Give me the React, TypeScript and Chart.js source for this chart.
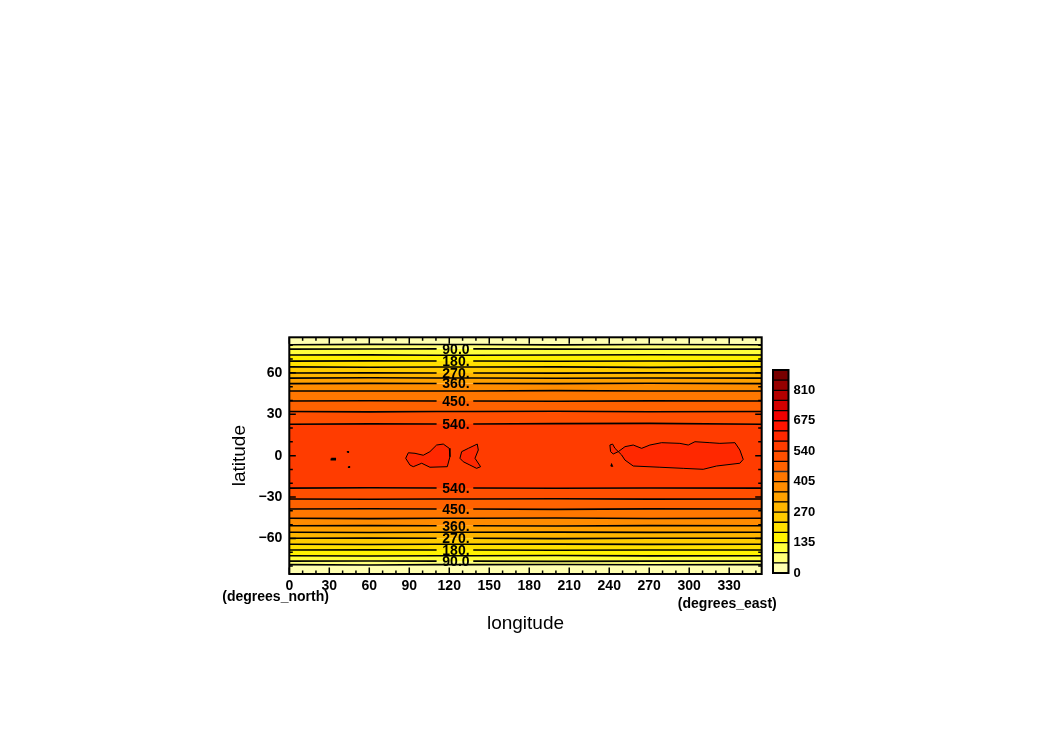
import React, { useEffect, useRef } from "react";
import { Chart, registerables } from "chart.js";

Chart.register(...registerables);

const FONT = "'Liberation Sans', Arial, sans-serif";

// ---- grid extent (T21 Gaussian grid) ----
const lonMin = 0;
const lonMax = 354.375;
const latMin = -85.76;
const latMax = 85.76;

// ---- axis ticks ----
const xMajorTicks = [0, 30, 60, 90, 120, 150, 180, 210, 240, 270, 300, 330];
const yMajorTicks = [-60, -30, 0, 30, 60];
const cbarTicks = [0, 135, 270, 405, 540, 675, 810];

// ---- contour levels / colours ----
const colorBounds = [0, 45, 90, 135, 180, 225, 270, 315, 360, 405, 450, 495, 540, 585, 630, 675, 720, 765, 810, 855, 900];
const bandColors = [
  "#ffffb0", "#ffff78", "#ffff3c", "#fff200", "#ffe000",
  "#ffcb00", "#ffb600", "#ffa100", "#ff8c00", "#ff7700",
  "#ff6200", "#ff4f00", "#ff3c00", "#ff2800", "#ff1400",
  "#f00000", "#d20000", "#b40000", "#960000", "#780000",
];

// longitudes at which each zonal contour line is sampled
const lonPoints = [0, 60, 110.5, 138, 200, 270, 354.375];

// northern hemisphere contour lines (levels 45 .. 540)
const northLevels = [45, 90, 135, 180, 225, 270, 315, 360, 405, 450, 495, 540];
const northLats = [
  [80.4, 80.6, 80.5, 80.5, 80.3, 80.5, 80.4],
  [77.2, 77.3, 77.4, 77.4, 77.2, 77.1, 77.2],
  [72.9, 73.0, 72.8, 72.8, 72.9, 73.1, 72.9],
  [68.5, 68.7, 68.6, 68.6, 68.4, 68.6, 68.5],
  [64.3, 64.1, 64.2, 64.2, 64.3, 64.0, 64.3],
  [59.9, 60.0, 59.9, 59.9, 59.8, 60.0, 59.9],
  [56.2, 56.4, 56.3, 56.3, 56.1, 56.3, 56.2],
  [52.2, 52.4, 52.3, 52.3, 52.2, 52.5, 52.2],
  [46.9, 46.8, 46.9, 46.9, 47.1, 46.8, 46.9],
  [39.6, 39.8, 39.6, 39.6, 39.4, 39.7, 39.6],
  [32.0, 31.7, 32.0, 32.0, 32.2, 31.8, 32.0],
  [22.8, 23.0, 22.9, 22.9, 23.2, 23.4, 22.8],
];

// southern hemisphere contour lines (levels 540 .. 45)
const southLevels = [540, 495, 450, 405, 360, 315, 270, 225, 180, 135, 90, 45];
const southLats = [
  [-23.5, -23.3, -23.4, -23.4, -23.6, -23.4, -23.5],
  [-31.4, -31.6, -31.4, -31.4, -31.2, -31.5, -31.4],
  [-38.7, -38.5, -38.7, -38.7, -38.9, -38.6, -38.7],
  [-45.4, -45.6, -45.4, -45.4, -45.2, -45.5, -45.4],
  [-50.8, -50.7, -50.8, -50.8, -51.0, -50.7, -50.8],
  [-55.5, -55.7, -55.5, -55.5, -55.4, -55.6, -55.5],
  [-59.9, -59.8, -59.9, -59.9, -60.1, -59.9, -59.9],
  [-64.2, -64.4, -64.2, -64.2, -64.1, -64.3, -64.2],
  [-68.4, -68.3, -68.4, -68.4, -68.6, -68.4, -68.4],
  [-72.5, -72.7, -72.5, -72.5, -72.4, -72.6, -72.5],
  [-76.4, -76.3, -76.4, -76.4, -76.6, -76.4, -76.4],
  [-79.0, -79.2, -79.0, -79.0, -78.9, -79.1, -79.0],
];

// labelled contour levels
const labeledLevels = [90, 180, 270, 360, 450, 540];
const labelTexts = ["90.0", "180.", "270.", "360.", "450.", "540."];
const labelLon = 125;

// closed 585 contours near the equator
const polyALon = [87.3, 89.3, 94.3, 100.5, 105.5, 110.5, 115.5, 120, 120.5, 118.5, 105.5, 99.3, 93, 90.5, 87.3];
const polyALat = [-1.9, 2.1, 1.7, 0.3, 2.9, 7.7, 8.4, 5.3, -0.8, -8, -8.4, -5.5, -8, -6.8, -1.9];
const polyBLon = [128, 129.3, 134.3, 141, 141.8, 139.3, 143.5, 140.5, 135.5, 130.5, 128];
const polyBLat = [-1.9, 2.9, 5.3, 8.4, 4.1, -1.9, -8, -9.2, -6.8, -4.4, -1.9];
const polyCLon = [246.8, 251.8, 258, 264.3, 270.5, 279.3, 293, 299.3, 304.3, 315.5, 323, 334.3, 338, 340.5, 338, 320.5, 310.5, 295.5, 278, 258, 251.8, 249.3, 244.3, 242.5, 240.5, 241, 243, 246.8];
const polyCLat = [2.9, 6.5, 7.7, 5.3, 7.7, 9.4, 8.9, 7.7, 10.1, 9.4, 8.9, 9.4, 4.1, -2.7, -5.5, -7.5, -9.9, -9.2, -8.4, -7.5, -3.2, 0.5, 5.3, 8.4, 7.7, 2.9, 1.2, 2.9];
// tiny closed contours
const dot1Lon = [31.5, 34.5, 34.5, 31.5, 31.5];
const dot1Lat = [-2.1, -2.1, -2.9, -2.9, -2.1];
const dot2Lon = [43.6, 44.4, 44.4, 43.6, 43.6];
const dot2Lat = [2.3, 2.3, 3.0, 3.0, 2.3];
const dot3Lon = [44.4, 45.2, 45.2, 44.4, 44.4];
const dot3Lat = [-7.9, -7.9, -8.5, -8.5, -7.9];
const dot4Lon = [241.2, 242.4, 241.8, 241.2];
const dot4Lat = [-7.6, -7.6, -6.2, -7.6];

const polygons = [
  [polyALon, polyALat, 1],
  [polyBLon, polyBLat, 1],
  [polyCLon, polyCLat, 1],
  [dot1Lon, dot1Lat, 1.5],
  [dot2Lon, dot2Lat, 1.2],
  [dot3Lon, dot3Lat, 1.2],
  [dot4Lon, dot4Lat, 1.2],
] as [number[], number[], number][];

const TRANSPARENT = "rgba(0,0,0,0)";

function toPts(lons: number[], lats: number[]) {
  return lons.map((x, i) => ({ x, y: lats[i] }));
}

function buildDatasets() {
  const ds: any[] = [];
  // 1) closed contours (filled, drawn on top)
  polygons.forEach(([lo, la, w]) => {
    ds.push({
      data: toPts(lo, la),
      showLine: true,
      fill: "shape",
      backgroundColor: bandColors[13],
      borderColor: "#000",
      borderWidth: w,
      pointRadius: 0,
      tension: 0,
    });
  });
  // 2) contour lines (stroke only, with a gap where labelled)
  const strokeLine = (lats: number[], lev: number) => {
    const labeled = labeledLevels.includes(lev);
    ds.push({
      data: toPts(lonPoints, lats),
      showLine: true,
      fill: false,
      borderColor: "#000",
      borderWidth: 1.6,
      pointRadius: 0,
      tension: 0,
      segment: labeled
        ? { borderColor: (c: any) => (c.p0DataIndex === 2 ? TRANSPARENT : "#000") }
        : undefined,
    });
  };
  northLevels.forEach((lev, j) => strokeLine(northLats[j], lev));
  southLevels.forEach((lev, s) => strokeLine(southLats[s], lev));

  // 3) filled bands (no stroke)
  const northStart = ds.length;
  northLevels.forEach((lev, j) => {
    ds.push({
      data: toPts(lonPoints, northLats[j]),
      showLine: true,
      fill: j === 0 ? "end" : northStart + j - 1,
      backgroundColor: bandColors[j],
      borderColor: TRANSPARENT,
      borderWidth: 0,
      pointRadius: 0,
      tension: 0,
    });
  });
  const southStart = ds.length;
  southLevels.forEach((lev, s) => {
    ds.push({
      data: toPts(lonPoints, southLats[s]),
      showLine: true,
      fill: s === 0 ? northStart + northLevels.length - 1 : southStart + s - 1,
      backgroundColor: bandColors[lev / 45],
      borderColor: TRANSPARENT,
      borderWidth: 0,
      pointRadius: 0,
      tension: 0,
    });
  });
  // bottom band (below the southern 45 line)
  ds.push({
    data: toPts(lonPoints, southLats[southLats.length - 1]),
    showLine: true,
    fill: "start",
    backgroundColor: bandColors[0],
    borderWidth: 0,
    borderColor: TRANSPARENT,
    pointRadius: 0,
  });
  return ds;
}

const mainPlugin = {
  id: "ncl-frame",
  afterDatasetsDraw(chart: any) {
    const { ctx, chartArea: a } = chart;
    const x = chart.scales.x;
    const y = chart.scales.y;
    ctx.save();
    // contour labels
    ctx.fillStyle = "#000";
    ctx.font = `bold 14px ${FONT}`;
    ctx.textAlign = "center";
    ctx.textBaseline = "middle";
    const gi = 2;
    labeledLevels.forEach((lev, k) => {
      const jn = northLevels.indexOf(lev);
      const js = southLevels.indexOf(lev);
      const latN = (northLats[jn][gi] + northLats[jn][gi + 1]) / 2;
      const latS = (southLats[js][gi] + southLats[js][gi + 1]) / 2;
      const px = x.getPixelForValue(labelLon);
      ctx.fillText(labelTexts[k], px, y.getPixelForValue(latN) + 1);
      ctx.fillText(labelTexts[k], px, y.getPixelForValue(latS) + 1);
    });
    // tick marks (inward, all four sides)
    ctx.strokeStyle = "#000";
    ctx.lineWidth = 1.5;
    ctx.beginPath();
    for (let v = 0; v <= 350; v += 10) {
      const len = v % 30 === 0 ? 6.5 : 3.5;
      const px = x.getPixelForValue(v);
      ctx.moveTo(px, a.bottom);
      ctx.lineTo(px, a.bottom - len);
      ctx.moveTo(px, a.top);
      ctx.lineTo(px, a.top + len);
    }
    for (let v = -80; v <= 80; v += 10) {
      const len = v % 30 === 0 ? 6.5 : 3.5;
      const py = y.getPixelForValue(v);
      ctx.moveTo(a.left, py);
      ctx.lineTo(a.left + len, py);
      ctx.moveTo(a.right, py);
      ctx.lineTo(a.right - len, py);
    }
    ctx.stroke();
    // frame
    ctx.lineWidth = 2;
    ctx.strokeRect(a.left, a.top, a.right - a.left, a.bottom - a.top);
    // unit strings
    ctx.font = `bold 14px ${FONT}`;
    ctx.textBaseline = "middle";
    ctx.textAlign = "left";
    ctx.fillText("(degrees_north)", a.left - 67, 597);
    ctx.textAlign = "right";
    ctx.fillText("(degrees_east)", a.right + 15, 604);
    ctx.restore();
  },
};

const cbarPlugin = {
  id: "cbar-frame",
  afterDatasetsDraw(chart: any) {
    const { ctx, chartArea: a } = chart;
    ctx.save();
    ctx.strokeStyle = "#000";
    ctx.lineWidth = 2;
    ctx.strokeRect(a.left, a.top, a.right - a.left, a.bottom - a.top);
    ctx.restore();
  },
};

export default function App() {
  const mainRef = useRef<HTMLCanvasElement>(null);
  const cbRef = useRef<HTMLCanvasElement>(null);

  useEffect(() => {
    const tickFont = { family: FONT, size: 14, weight: "bold" as const };
    const main = new Chart(mainRef.current!, {
      type: "scatter",
      data: { datasets: buildDatasets() },
      options: {
        responsive: false,
        animation: false,
        devicePixelRatio: 1,
        events: [],
        layout: { padding: { left: 225, right: 288.3, top: 337.3, bottom: 106.6 } },
        plugins: {
          legend: { display: false },
          tooltip: { enabled: false },
          filler: { propagate: false, drawTime: "beforeDatasetsDraw" },
        },
        scales: {
          x: {
            type: "linear",
            min: lonMin,
            max: lonMax,
            afterBuildTicks: (s: any) => {
              s.ticks = xMajorTicks.map((v) => ({ value: v }));
            },
            afterFit: (s: any) => {
              s.height = 61.4;
            },
            grid: { display: false, drawTicks: false },
            border: { display: false },
            ticks: {
              font: tickFont,
              color: "#000",
              padding: 4,
              maxRotation: 0,
              autoSkip: false,
              callback: (v: any) => String(v),
            },
            title: {
              display: true,
              text: "longitude",
              color: "#000",
              font: { family: FONT, size: 19 },
              padding: { top: 0, bottom: 0 },
            },
          },
          y: {
            type: "linear",
            min: latMin,
            max: latMax,
            afterBuildTicks: (s: any) => {
              s.ticks = yMajorTicks.map((v) => ({ value: v }));
            },
            afterFit: (s: any) => {
              s.width = 64.3;
            },
            grid: { display: false, drawTicks: false },
            border: { display: false },
            ticks: {
              font: tickFont,
              color: "#000",
              padding: 7,
              autoSkip: false,
              callback: (v: any) => (v < 0 ? "\u2212" + Math.abs(v) : String(v)),
            },
            title: {
              display: true,
              text: "latitude",
              color: "#000",
              font: { family: FONT, size: 19 },
              padding: { top: 3.6, bottom: 0 },
            },
          },
        },
      },
      plugins: [mainPlugin],
    } as any);

    const cb = new Chart(cbRef.current!, {
      type: "bar",
      data: {
        labels: [""],
        datasets: bandColors.map((c, i) => ({
          data: [[colorBounds[i], colorBounds[i + 1]]],
          backgroundColor: c,
          borderColor: "#000",
          borderWidth: 1,
          borderSkipped: false,
          barPercentage: 1,
          categoryPercentage: 1,
          grouped: false,
        })),
      },
      options: {
        responsive: false,
        animation: false,
        devicePixelRatio: 1,
        events: [],
        layout: { padding: { left: 773, right: 1050 - 788.5 - 40, top: 370, bottom: 742 - 573 } },
        plugins: { legend: { display: false }, tooltip: { enabled: false } },
        scales: {
          x: { display: false },
          y: {
            position: "right",
            min: 0,
            max: 900,
            afterBuildTicks: (s: any) => {
              s.ticks = cbarTicks.map((v) => ({ value: v }));
            },
            afterFit: (s: any) => {
              s.width = 40;
            },
            grid: { display: false, drawTicks: false },
            border: { display: false },
            ticks: {
              font: { family: FONT, size: 13, weight: "bold" },
              color: "#000",
              padding: 5,
              autoSkip: false,
              callback: (v: any) => String(v),
            },
          },
        },
      },
      plugins: [cbarPlugin],
    } as any);

    return () => {
      main.destroy();
      cb.destroy();
    };
  }, []);

  return (
    <div style={{ position: "absolute", left: 0, top: 0, width: 1050, height: 742, background: "#fff" }}>
      <canvas ref={mainRef} width={1050} height={742} style={{ position: "absolute", left: 0, top: 0 }} />
      <canvas ref={cbRef} width={1050} height={742} style={{ position: "absolute", left: 0, top: 0 }} />
    </div>
  );
}
